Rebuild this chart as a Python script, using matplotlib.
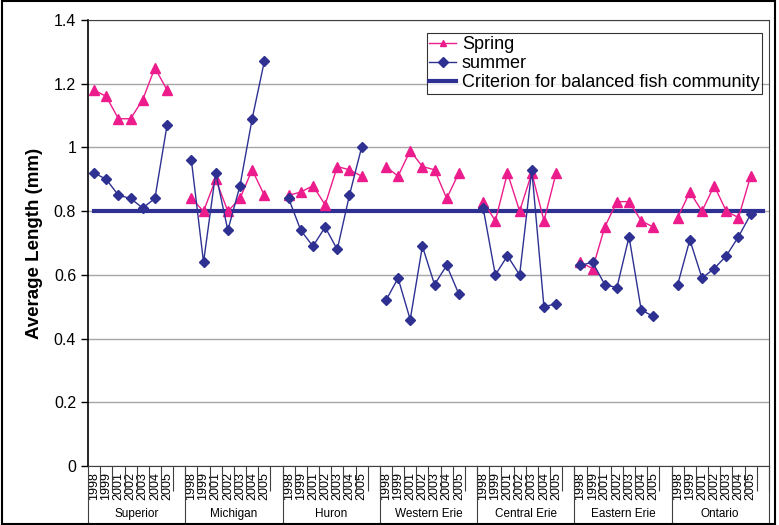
import matplotlib
matplotlib.use("Agg")
import matplotlib.pyplot as plt
import numpy as np
from matplotlib.lines import Line2D
from matplotlib.patches import Rectangle

plt.rcParams['font.family'] = ['Liberation Sans', 'DejaVu Sans']

lakes = ["Superior", "Michigan", "Huron", "Western Erie", "Central Erie", "Eastern Erie", "Ontario"]
years = ["1998", "1999", "2001", "2002", "2003", "2004", "2005"]

spring = [
    [1.18, 1.16, 1.09, 1.09, 1.15, 1.25, 1.18],
    [0.84, 0.80, 0.90, 0.80, 0.84, 0.93, 0.85],
    [0.85, 0.86, 0.88, 0.82, 0.94, 0.93, 0.91],
    [0.94, 0.91, 0.99, 0.94, 0.93, 0.84, 0.92],
    [0.83, 0.77, 0.92, 0.80, 0.92, 0.77, 0.92],
    [0.64, 0.62, 0.75, 0.83, 0.83, 0.77, 0.75],
    [0.78, 0.86, 0.80, 0.88, 0.80, 0.78, 0.91],
]
summer = [
    [0.92, 0.90, 0.85, 0.84, 0.81, 0.84, 1.07],
    [0.96, 0.64, 0.92, 0.74, 0.88, 1.09, 1.27],
    [0.84, 0.74, 0.69, 0.75, 0.68, 0.85, 1.00],
    [0.52, 0.59, 0.46, 0.69, 0.57, 0.63, 0.54],
    [0.81, 0.60, 0.66, 0.60, 0.93, 0.50, 0.51],
    [0.63, 0.64, 0.57, 0.56, 0.72, 0.49, 0.47],
    [0.57, 0.71, 0.59, 0.62, 0.66, 0.72, 0.79],
]
criterion = 0.8

pink = "#EC1C8C"
navy = "#2E3192"

n_slot = len(years) + 1          # one empty slot after each lake
n_total = n_slot * len(lakes)

fig = plt.figure(figsize=(7.79, 5.25), dpi=100)
ax = fig.add_axes([0.113, 0.112, 0.874, 0.850])

# criterion line runs across every category slot
crit_line, = ax.plot(np.arange(n_total), [criterion] * n_total, color=navy, lw=3, zorder=2)

for g, lake in enumerate(lakes):
    xs = np.arange(len(years)) + g * n_slot
    sp, = ax.plot(xs, spring[g], color=pink, lw=1, marker="^", ms=7, zorder=3)
    su, = ax.plot(xs, summer[g], color=navy, lw=1, marker="D", ms=5, zorder=4)

ax.set_xlim(-0.5, n_total - 0.5)
ax.set_ylim(0, 1.4)
ax.set_yticks(np.arange(0, 1.41, 0.2))
ax.set_yticklabels(["0", "0.2", "0.4", "0.6", "0.8", "1", "1.2", "1.4"], fontsize=11.5)
ax.yaxis.grid(True, color="#A6A6A6", lw=1)
ax.set_axisbelow(True)
ax.tick_params(axis="y", direction="out", length=5, width=1)
ax.set_ylabel("Average Length (mm)", fontsize=13.5, fontweight="bold", labelpad=8)

for s in ["top", "right", "bottom"]:
    ax.spines[s].set_color("#404040")
ax.spines["left"].set_color("black")
ax.spines["left"].set_linewidth(1.2)

# year labels under each point, with short dividers between slots
ticks, labels = [], []
for g in range(len(lakes)):
    for i, y in enumerate(years):
        ticks.append(g * n_slot + i)
        labels.append(y)
ax.set_xticks(ticks)
ax.set_xticklabels(labels, rotation=90, fontsize=9)
ax.tick_params(axis="x", length=0, pad=4)
ax.set_xticks(np.arange(n_total) + 0.5, minor=True)
ax.tick_params(axis="x", which="minor", direction="out", length=18, width=0.8, color="#404040")

# lake names and the long separators between lakes
trans = ax.get_xaxis_transform()
for g, lake in enumerate(lakes):
    center = g * n_slot + (n_slot - 1) / 2
    ax.text(center, -0.106, lake, transform=trans, ha="center", va="center", fontsize=8.5)
for g in range(len(lakes) + 1):
    xb = g * n_slot - 0.5
    ax.add_line(Line2D([xb, xb], [0, -0.135], transform=trans, color="#404040",
                       lw=0.8, clip_on=False))

leg = ax.legend([sp, su, crit_line],
                ["Spring", "summer", "Criterion for balanced fish community"],
                loc="upper right", bbox_to_anchor=(0.99, 0.97), fontsize=13,
                frameon=True, fancybox=False, borderpad=0.15, labelspacing=0.12,
                handlelength=1.5, handletextpad=0.3, borderaxespad=0)
leg.get_frame().set_edgecolor("black")
leg.get_frame().set_linewidth(0.8)
for line in leg.get_lines():
    line.set_markersize(5)

fig.patches.append(Rectangle((0.002, 0.002), 0.993, 0.996, transform=fig.transFigure,
                             fill=False, edgecolor="black", lw=1.5))

fig.savefig("out.png", dpi=100)
